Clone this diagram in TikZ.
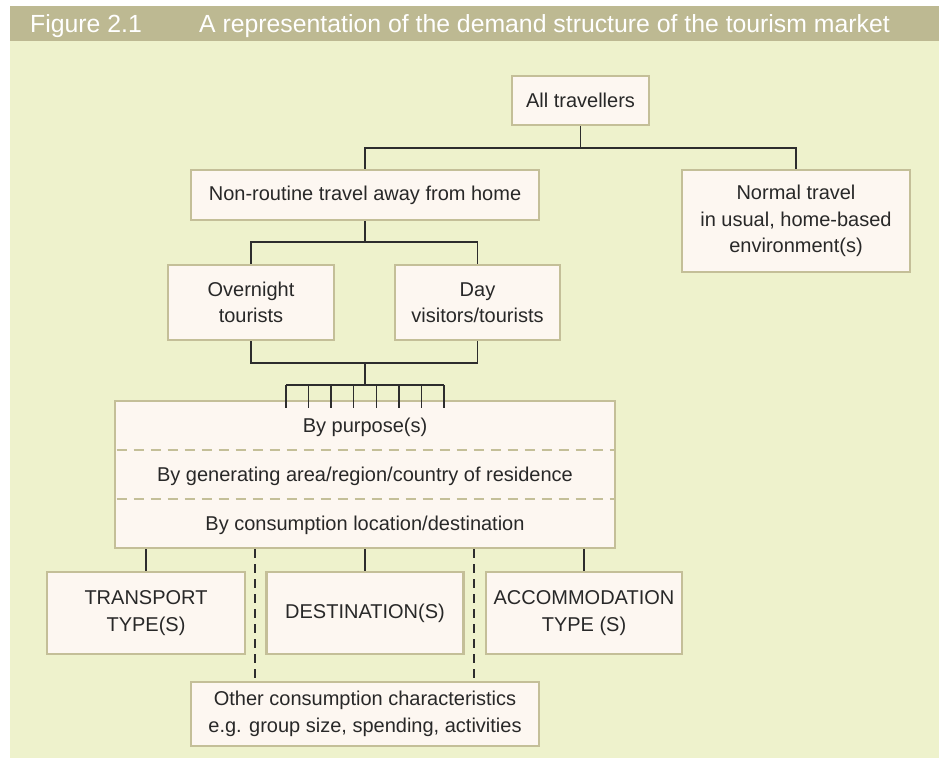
\documentclass[tikz,border=0pt]{standalone}
\usepackage{fontspec}
\setmainfont{Liberation Sans}
\definecolor{headbg}{RGB}{189,185,146}
\definecolor{panel}{RGB}{238,242,204}
\definecolor{boxfill}{RGB}{253,247,241}
\definecolor{boxline}{RGB}{196,191,152}
\definecolor{ink}{RGB}{40,40,40}
\definecolor{linkc}{RGB}{45,45,45}
\newcommand{\bodyfont}{\fontsize{20}{26.5}\selectfont}
\newcommand{\headfont}{\fontsize{24.8}{28}\selectfont}
\begin{document}
\begin{tikzpicture}[x=1pt,y=-1pt,
  box/.style={draw=boxline, line width=2.6pt, fill=boxfill, text=ink,
    align=center, inner sep=0pt, font=\bodyfont},
  rowtext/.style={text=ink, font=\bodyfont, inner sep=0pt, anchor=base},
  link/.style={draw=linkc, line width=1.4pt},
  sepline/.style={draw=boxline, line width=2.2pt, dash pattern=on 10pt off 7pt},
  gapline/.style={draw=linkc, line width=1.1pt, dash pattern=on 9pt off 6pt},
  headtext/.style={text=white, font=\headfont, inner sep=0pt, anchor=base west}]
\useasboundingbox (0,0) rectangle (939,758);
% page, panel and header band
\fill[white] (0,0) rectangle (939,758);
\fill[panel] (10,41) rectangle (939,758);
\fill[headbg] (10,6) rectangle (939,41);
\node[headtext] (fignum) at (30,32) {Figure 2.1};
\node[headtext] (figtitle) at (199,32) {A representation of the demand structure of the tourism market};

% boxes
\node[box, minimum width=137pt, minimum height=49pt] (all) at (580.5,100.5) {All travellers};
\node[box, minimum width=348pt, minimum height=50pt] (nonroutine) at (365,195) {Non-routine travel away from home};
\node[box, minimum width=228pt, minimum height=102pt] (normal) at (796,221) {Normal travel\\in usual, home-based\\environment(s)};
\node[box, minimum width=166pt, minimum height=75pt] (overnight) at (251,302.5) {Overnight\\tourists};
\node[box, minimum width=165pt, minimum height=75pt] (day) at (477.5,302.5) {Day\\visitors/tourists};
\node[box, minimum width=500pt, minimum height=147pt] (big) at (365,474.5) {};
\node[rowtext] (purpose) at (365,432) {By purpose(s)};
\node[rowtext] (generating) at (365,481) {By generating area/region/country of residence};
\node[rowtext] (consumption) at (365,530) {By consumption location/destination};
\node[box, minimum width=198pt, minimum height=82pt] (transport) at (146,613) {TRANSPORT\\TYPE(S)};
\node[box, minimum width=197pt, minimum height=82pt] (destination) at (365,613) {DESTINATION(S)};
\node[box, minimum width=196pt, minimum height=82pt] (accommodation) at (584,613) {ACCOMMODATION\\TYPE (S)};
\node[box, minimum width=348pt, minimum height=64pt] (other) at (365,714) {Other consumption characteristics\\e.g. group size, spending, activities};

% dashed separators inside the segmentation box
\coordinate (sepAl) at (116.5,450); \coordinate (sepAr) at (613.5,450);
\coordinate (sepBl) at (116.5,499); \coordinate (sepBr) at (613.5,499);
\draw[sepline] (sepAl) -- (sepAr);
\draw[sepline] (sepBl) -- (sepBr);

% tree connectors
\coordinate (barA) at (580.5,148);
\draw[link] (all.south) -- (barA);
\draw[link] (barA) -| (nonroutine.north);
\draw[link] (barA) -| (normal.north);
\coordinate (barB) at (365,242);
\draw[link] (nonroutine.south) -- (barB);
\draw[link] (barB) -| (overnight.north);
\draw[link] (barB) -| (day.north);
\coordinate (barC) at (365,363);
\draw[link] (overnight.south) |- (barC) -| (day.south);
\coordinate (hub) at (365,385);
\draw[link] (barC) -- (hub);
\coordinate (combL) at (286,385);
\coordinate (combR) at (444,385);
\draw[link] (combL) -- (combR);
\foreach \i in {0,...,7}{
  \coordinate (tick\i) at ({286+\i*22.571},385);
  \coordinate (tip\i) at ({286+\i*22.571},408);
  \draw[link] (tick\i) -- (tip\i);
}
\draw[link] (big.south -| transport.north) -- (transport.north);
\draw[link] (big.south -| destination.north) -- (destination.north);
\draw[link] (big.south -| accommodation.north) -- (accommodation.north);
\coordinate (gapL) at (255,0);
\coordinate (gapR) at (474,0);
\draw[gapline] (big.south -| gapL) -- (other.north -| gapL);
\draw[gapline] (big.south -| gapR) -- (other.north -| gapR);
\end{tikzpicture}
\end{document}
